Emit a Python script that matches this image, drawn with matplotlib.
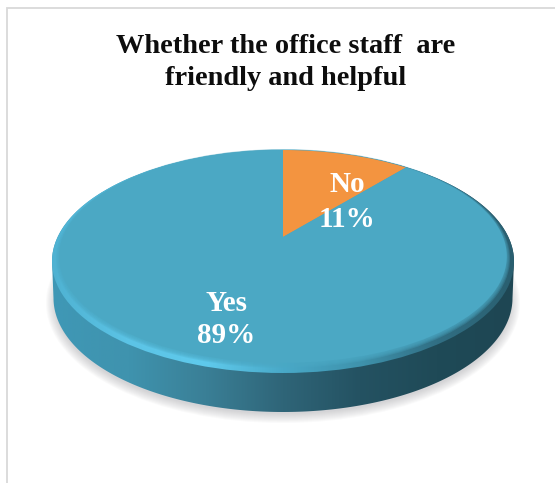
import numpy as np
import matplotlib
matplotlib.use("Agg")
import matplotlib.pyplot as plt
from matplotlib.colors import LinearSegmentedColormap
from matplotlib.patches import Ellipse, Polygon, Rectangle
from matplotlib.transforms import Transform

title = "Whether the office staff  are\nfriendly and helpful"
labels = ["No", "Yes"]
values = [11, 89]
colors = ["#f39440", "#4ba8c4"]


class Tilt(Transform):
    # unit circle -> tilted disc in pixel coords, the centre sits above the middle
    input_dims = 2
    output_dims = 2

    def transform_non_affine(self, xy):
        xy = np.asarray(xy)
        d = 1 + 0.183 * xy[:, 1]
        return np.column_stack([283 + 220 * xy[:, 0] / d, 237 - 102.9 * xy[:, 1] / d])


def ring(cx, cy, rx, ry, a, b):
    t = np.radians(np.linspace(a, b, 200))
    return np.column_stack([cx + rx * np.cos(t), cy + ry * np.sin(t)])


fig = plt.figure(figsize=(5.55, 4.83), dpi=100)
ax = fig.add_axes([0, 0, 1, 1])

wedges, _ = ax.pie(values, colors=colors, startangle=90, counterclock=False, radius=1)
for w in wedges:
    w.set_transform(Tilt() + ax.transData)
    w.set_zorder(6)

ax.set_aspect("auto")
ax.set_xlim(0, 555)
ax.set_ylim(483, 0)
ax.axis("off")

# chart frame
ax.add_patch(Rectangle((6.5, 7.5), 600, 520, fc="white", ec="#d9d9d9", lw=1.3, zorder=0))

# soft shadow
for i in range(10):
    ax.add_patch(Ellipse((283, 303), 2 * (237 - i), 2 * (120 - i), fc="#8a8a92", ec="none", alpha=0.04, zorder=1))

# side wall
side = LinearSegmentedColormap.from_list(
    "side", ["#3f98b6", "#3f93ae", "#3a7f96", "#2f6578", "#245262", "#1f4a57", "#1e4653"])
body = Polygon(np.vstack([ring(283, 261.5, 231, 111.5, 180, 360), ring(283, 298, 229.5, 114, 0, 180)]),
               closed=True, transform=ax.transData)
im = ax.imshow(np.linspace(0, 1, 256)[None, :], cmap=side, extent=(52, 514, 412, 150), aspect="auto", zorder=2)
im.set_clip_path(body)

# rim round the top face
rim = LinearSegmentedColormap.from_list(
    "rim", ["#4fb2d2", "#5cc4e6", "#5fcaec", "#49a9c8", "#3f93ad", "#316f84", "#2a5f70"])
rim_shape = Ellipse((283, 261.5), 462, 223, transform=ax.transData)
im2 = ax.imshow(np.linspace(0, 1, 256)[None, :], cmap=rim, extent=(52, 514, 373, 150), aspect="auto", zorder=3)
im2.set_clip_path(rim_shape)

# blur the edge between the rim and the face
for i in range(5, 0, -1):
    ax.add_patch(Ellipse((283, 256.5 + 0.4 * i), 2 * (222 + i), 2 * (106.5 + 0.6 * i), fc=colors[1], ec="none", alpha=0.28, zorder=4))

ax.text(286, 62.5, title, ha="center", va="center", fontsize=20.4, fontweight="bold",
        family="Liberation Serif", color="#0d0d0d", linespacing=1.33, zorder=8)

ax.text(347, 202, f"{labels[0]}\n{values[0]}%", ha="center", va="center", fontsize=21, fontweight="bold",
        family="Liberation Serif", color="white", linespacing=1.36, zorder=8)
ax.text(226, 319.5, f"{labels[1]}\n{values[1]}%", ha="center", va="center", fontsize=21, fontweight="bold",
        family="Liberation Serif", color="white", linespacing=1.24, zorder=8)

fig.savefig("out.png", dpi=100)
